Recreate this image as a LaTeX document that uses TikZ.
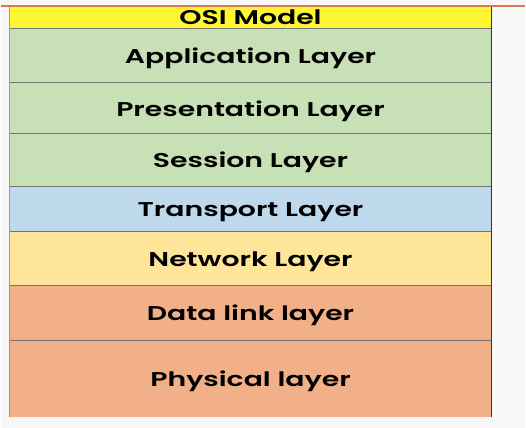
\documentclass[tikz,border=0pt]{standalone}
\usepackage{fontspec}
\setmainfont{Poppins}[FakeStretch=1.42, BoldFont={Poppins SemiBold}]
\usepackage{tikz}
\usetikzlibrary{positioning}
\definecolor{osiyellow}{HTML}{FFF633}
\definecolor{osigreen}{HTML}{C7E0B5}
\definecolor{osiblue}{HTML}{BED8EC}
\definecolor{osisand}{HTML}{FFE59A}
\definecolor{osiorange}{HTML}{F1B087}
\definecolor{osirule}{HTML}{E0764C}
\definecolor{osipaper}{HTML}{F8F8F8}

\begin{document}
\begin{tikzpicture}[
    x=1pt, y=-1pt,
    font=\bfseries\fontsize{20}{24}\selectfont,
    layer/.style={
		rectangle,
		inner sep=0pt,
		outer sep=0pt,
		text centered,
		text height=16pt,
		text depth=0pt,
		minimum width=483pt,
		anchor=north
	},
	sep/.style={
		draw=black!55,
		line width=0.9pt
	}
  ]
    % page and top rule
  \fill [osipaper] (0,0) rectangle (526,429);
  \draw [osirule, line width=1.6pt] (0,6) -- (526,6);

    % the layers, top to bottom
  \node [layer, fill=osiyellow, minimum height=22pt, text height=14pt, anchor=north west] at (9,7) (osi) {OSI Model};
  \node [layer, fill=osigreen, minimum height=54pt, below=0pt of osi] (app) {Application Layer};
  \node [layer, fill=osigreen, minimum height=51pt, below=0pt of app] (pres) {Presentation Layer};
  \node [layer, fill=osigreen, minimum height=53pt, below=0pt of pres] (sess) {Session Layer};
  \node [layer, fill=osiblue, minimum height=45pt, below=0pt of sess] (trans) {Transport Layer};
  \node [layer, fill=osisand, minimum height=54pt, below=0pt of trans] (net) {Network Layer};
  \node [layer, fill=osiorange, minimum height=55pt, below=0pt of net] (dlink) {Data link layer};
  \node [layer, fill=osiorange, minimum height=77pt, below=0pt of dlink] (phys) {Physical layer};

    % rules between the layers
  \foreach \n in {app,pres,sess,trans,net,dlink,phys}
    \draw [sep] (\n.north west) -- (\n.north east);
  \draw [draw=black!40, line width=0.7pt] (osi.north west) -- (phys.south west);
  \draw [draw=black!80, line width=1pt] (osi.north east) -- (phys.south east);

\end{tikzpicture}
\end{document}
